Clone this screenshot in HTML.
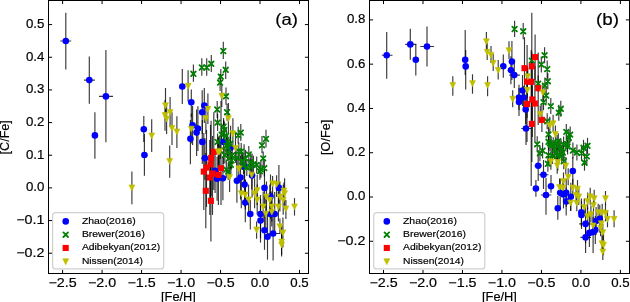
<!DOCTYPE html>
<html><head><meta charset="utf-8"><title>Figure</title>
<style>html,body{margin:0;padding:0;background:#fff;width:630px;height:302px;overflow:hidden}svg{display:block}text{font-family:"Liberation Sans",sans-serif;filter:grayscale(1);stroke:#000;stroke-width:0.18px}</style>
</head><body>
<svg width="630" height="302" viewBox="0 0 630 302">
<rect width="630" height="302" fill="#fff"/>
<g><g stroke="#000" stroke-opacity="0.78" stroke-width="1.15" fill="none"><path d="M65.80,12.70V69.40M60.30,41.00H71.20"/><path d="M89.30,56.40V103.70M84.00,80.10H94.90"/><path d="M105.90,50.10V142.30M99.00,96.40H113.00"/><path d="M94.90,112.30V158.70"/><path d="M143.80,116.00V142.00"/><path d="M144.40,134.00V175.80M141.50,155.00H147.80"/><path d="M182.30,68.90V104.10"/><path d="M191.30,89.40V117.00"/><path d="M204.30,87.90V123.00"/><path d="M202.20,90.30V134.00"/><path d="M192.60,106.00V145.00"/><path d="M197.90,106.20V151.00"/><path d="M196.60,109.50V156.00"/><path d="M190.40,120.00V164.30"/><path d="M202.30,120.00V164.00"/><path d="M223.60,119.90V163.90"/><path d="M230.60,125.80V169.80"/><path d="M204.90,138.00V180.00M201.20,158.30H208.60"/><path d="M215.10,148.90V192.90"/><path d="M217.10,156.80V200.80"/><path d="M222.90,156.20V200.20"/><path d="M236.90,158.80V202.80"/><path d="M240.50,155.60V199.60"/><path d="M244.60,162.60V206.60"/><path d="M244.10,144.30V188.30"/><path d="M252.10,153.50V197.50"/><path d="M264.50,168.00V208.00"/><path d="M278.90,165.00V210.00"/><path d="M245.30,180.00V222.20"/><path d="M270.50,174.50V218.50"/><path d="M250.30,200.00V229.50"/><path d="M260.50,195.00V238.10"/><path d="M270.20,192.00V236.00"/><path d="M274.70,192.00V236.00"/><path d="M260.50,198.60V242.60"/><path d="M264.50,211.00V249.80"/><path d="M273.10,210.00V260.50M268.30,233.50H279.90"/><path d="M267.50,214.00V259.70"/><path d="M193.40,64.60V81.80"/><path d="M201.80,58.30V75.80"/><path d="M206.70,58.30V75.80"/><path d="M211.30,55.00V72.00"/><path d="M223.30,41.80V59.00"/><path d="M225.70,61.60V79.00"/><path d="M220.80,68.90V85.00"/><path d="M220.10,74.00V91.00"/><path d="M226.00,87.60V104.70"/><path d="M217.20,100.90V118.00"/><path d="M227.10,103.70V120.70"/><path d="M217.60,114.10V131.10"/><path d="M223.60,118.10V135.10"/><path d="M224.30,121.40V138.40"/><path d="M240.80,124.10V141.10"/><path d="M238.20,126.70V143.70"/><path d="M221.60,126.10V143.10"/><path d="M226.30,127.40V144.40"/><path d="M217.60,133.40V150.40"/><path d="M227.60,133.40V150.40"/><path d="M230.20,135.30V152.30"/><path d="M226.30,137.30V154.30"/><path d="M228.20,139.30V156.30"/><path d="M220.30,142.00V159.00"/><path d="M238.80,142.60V159.60"/><path d="M227.60,144.00V161.00"/><path d="M232.20,146.60V163.60"/><path d="M224.90,146.60V163.60"/><path d="M236.90,149.20V166.20"/><path d="M248.80,145.90V162.90"/><path d="M245.50,149.90V166.90"/><path d="M228.90,149.90V166.90"/><path d="M231.60,151.80V168.80"/><path d="M230.90,156.40V173.40"/><path d="M228.20,163.10V180.10"/><path d="M226.30,161.10V178.10"/><path d="M242.20,152.50V169.50"/><path d="M250.80,153.80V170.80"/><path d="M243.50,157.10V174.10"/><path d="M246.80,159.10V176.10"/><path d="M250.10,158.40V175.40"/><path d="M253.40,155.80V172.80"/><path d="M256.70,156.40V173.40"/><path d="M260.90,160.80V177.80"/><path d="M264.30,159.60V176.60"/><path d="M259.90,162.80V179.80"/><path d="M241.20,143.00V160.00"/><path d="M242.30,152.90V169.90"/><path d="M266.00,129.70V147.50"/><path d="M262.00,135.90V153.30"/><path d="M263.20,151.50V166.00"/><path d="M213.80,112.20V190.00"/><path d="M211.10,120.80V196.00"/><path d="M210.50,125.00V203.00"/><path d="M206.50,130.00V207.00"/><path d="M203.80,133.00V210.00"/><path d="M212.50,136.00V214.90"/><path d="M209.80,140.00V215.00"/><path d="M218.40,138.00V205.00"/><path d="M221.00,100.90V205.00"/><path d="M205.80,153.00V228.20"/><path d="M210.90,160.00V241.40"/><path d="M151.70,119.30V152.10"/><path d="M131.90,171.40V204.30"/><path d="M169.70,145.60V177.80"/><path d="M188.10,70.30V101.70"/><path d="M221.80,84.00V107.00"/><path d="M207.90,93.60V124.00"/><path d="M165.50,88.00V120.00"/><path d="M170.10,97.00V127.00"/><path d="M165.00,100.00V130.80"/><path d="M166.60,104.00V134.00"/><path d="M172.00,112.20V144.90"/><path d="M176.90,116.20V148.00"/><path d="M205.90,103.00V134.00"/><path d="M228.40,103.10V133.10"/><path d="M191.30,113.60V143.60"/><path d="M218.40,136.80V166.80"/><path d="M232.90,118.20V148.20"/><path d="M235.50,132.80V162.80"/><path d="M219.60,136.10V166.10"/><path d="M229.60,161.90V191.90"/><path d="M238.80,153.20V183.20"/><path d="M251.70,159.60V189.60"/><path d="M272.60,176.00V196.00"/><path d="M276.60,175.30V197.00"/><path d="M257.20,174.90V204.90"/><path d="M254.60,178.20V208.20"/><path d="M241.30,178.20V208.20"/><path d="M245.30,179.50V209.50"/><path d="M248.60,184.40V214.40"/><path d="M257.20,184.40V214.40"/><path d="M266.50,181.50V211.50"/><path d="M269.80,184.80V214.80"/><path d="M263.20,191.40V221.40"/><path d="M271.80,191.40V221.40"/><path d="M278.40,191.40V221.40"/><path d="M283.90,182.60V202.00"/><path d="M284.60,178.20V208.20"/><path d="M279.90,181.50V211.50"/><path d="M283.20,184.80V214.80"/><path d="M294.50,198.10V215.60"/><path d="M285.90,200.00V219.10"/><path d="M271.80,196.60V226.60"/><path d="M265.80,198.60V228.60"/><path d="M256.60,221.60V238.80"/><path d="M279.90,218.60V234.00"/><path d="M282.90,217.40V247.40"/><path d="M281.60,226.50V256.50"/><path d="M281.60,234.00V254.70"/></g>
<circle cx="65.8" cy="41.0" r="3.3" fill="#0000ff"/>
<circle cx="89.3" cy="80.1" r="3.3" fill="#0000ff"/>
<circle cx="105.9" cy="96.4" r="3.3" fill="#0000ff"/>
<circle cx="94.9" cy="135.4" r="3.3" fill="#0000ff"/>
<circle cx="143.8" cy="129.2" r="3.3" fill="#0000ff"/>
<circle cx="144.4" cy="155.0" r="3.3" fill="#0000ff"/>
<circle cx="182.3" cy="86.5" r="3.3" fill="#0000ff"/>
<circle cx="191.3" cy="102.2" r="3.3" fill="#0000ff"/>
<circle cx="204.3" cy="105.5" r="3.3" fill="#0000ff"/>
<circle cx="202.2" cy="112.2" r="3.3" fill="#0000ff"/>
<circle cx="192.6" cy="125.3" r="3.3" fill="#0000ff"/>
<circle cx="197.9" cy="128.6" r="3.3" fill="#0000ff"/>
<circle cx="196.6" cy="132.6" r="3.3" fill="#0000ff"/>
<circle cx="190.4" cy="138.7" r="3.3" fill="#0000ff"/>
<circle cx="202.3" cy="141.9" r="3.3" fill="#0000ff"/>
<circle cx="223.6" cy="141.9" r="3.3" fill="#0000ff"/>
<circle cx="230.6" cy="147.8" r="3.3" fill="#0000ff"/>
<circle cx="204.9" cy="158.3" r="3.3" fill="#0000ff"/>
<circle cx="215.1" cy="170.9" r="3.3" fill="#0000ff"/>
<circle cx="217.1" cy="178.8" r="3.3" fill="#0000ff"/>
<circle cx="222.9" cy="178.2" r="3.3" fill="#0000ff"/>
<circle cx="236.9" cy="180.8" r="3.3" fill="#0000ff"/>
<circle cx="240.5" cy="177.6" r="3.3" fill="#0000ff"/>
<circle cx="244.6" cy="184.6" r="3.3" fill="#0000ff"/>
<circle cx="244.1" cy="166.3" r="3.3" fill="#0000ff"/>
<circle cx="252.1" cy="175.5" r="3.3" fill="#0000ff"/>
<circle cx="264.5" cy="187.9" r="3.3" fill="#0000ff"/>
<circle cx="278.9" cy="187.9" r="3.3" fill="#0000ff"/>
<circle cx="245.3" cy="202.5" r="3.3" fill="#0000ff"/>
<circle cx="270.5" cy="196.5" r="3.3" fill="#0000ff"/>
<circle cx="250.3" cy="214.0" r="3.3" fill="#0000ff"/>
<circle cx="260.5" cy="214.0" r="3.3" fill="#0000ff"/>
<circle cx="270.2" cy="214.0" r="3.3" fill="#0000ff"/>
<circle cx="274.7" cy="214.0" r="3.3" fill="#0000ff"/>
<circle cx="260.5" cy="220.6" r="3.3" fill="#0000ff"/>
<circle cx="264.5" cy="230.2" r="3.3" fill="#0000ff"/>
<circle cx="273.1" cy="233.5" r="3.3" fill="#0000ff"/>
<circle cx="267.5" cy="236.8" r="3.3" fill="#0000ff"/>
<path d="M191.10,71.50L195.70,76.10M191.10,76.10L195.70,71.50" stroke="#008000" stroke-width="1.8" stroke-linecap="round" fill="none"/>
<path d="M199.50,65.20L204.10,69.80M199.50,69.80L204.10,65.20" stroke="#008000" stroke-width="1.8" stroke-linecap="round" fill="none"/>
<path d="M204.40,65.20L209.00,69.80M204.40,69.80L209.00,65.20" stroke="#008000" stroke-width="1.8" stroke-linecap="round" fill="none"/>
<path d="M209.00,61.50L213.60,66.10M209.00,66.10L213.60,61.50" stroke="#008000" stroke-width="1.8" stroke-linecap="round" fill="none"/>
<path d="M221.00,48.70L225.60,53.30M221.00,53.30L225.60,48.70" stroke="#008000" stroke-width="1.8" stroke-linecap="round" fill="none"/>
<path d="M223.40,67.50L228.00,72.10M223.40,72.10L228.00,67.50" stroke="#008000" stroke-width="1.8" stroke-linecap="round" fill="none"/>
<path d="M218.50,74.30L223.10,78.90M218.50,78.90L223.10,74.30" stroke="#008000" stroke-width="1.8" stroke-linecap="round" fill="none"/>
<path d="M217.80,80.30L222.40,84.90M217.80,84.90L222.40,80.30" stroke="#008000" stroke-width="1.8" stroke-linecap="round" fill="none"/>
<path d="M223.70,94.00L228.30,98.60M223.70,98.60L228.30,94.00" stroke="#008000" stroke-width="1.8" stroke-linecap="round" fill="none"/>
<path d="M214.90,107.20L219.50,111.80M214.90,111.80L219.50,107.20" stroke="#008000" stroke-width="1.8" stroke-linecap="round" fill="none"/>
<path d="M224.80,109.90L229.40,114.50M224.80,114.50L229.40,109.90" stroke="#008000" stroke-width="1.8" stroke-linecap="round" fill="none"/>
<path d="M215.30,120.30L219.90,124.90M215.30,124.90L219.90,120.30" stroke="#008000" stroke-width="1.8" stroke-linecap="round" fill="none"/>
<path d="M221.30,124.30L225.90,128.90M221.30,128.90L225.90,124.30" stroke="#008000" stroke-width="1.8" stroke-linecap="round" fill="none"/>
<path d="M222.00,127.60L226.60,132.20M222.00,132.20L226.60,127.60" stroke="#008000" stroke-width="1.8" stroke-linecap="round" fill="none"/>
<path d="M238.50,130.30L243.10,134.90M238.50,134.90L243.10,130.30" stroke="#008000" stroke-width="1.8" stroke-linecap="round" fill="none"/>
<path d="M235.90,132.90L240.50,137.50M235.90,137.50L240.50,132.90" stroke="#008000" stroke-width="1.8" stroke-linecap="round" fill="none"/>
<path d="M219.30,132.30L223.90,136.90M219.30,136.90L223.90,132.30" stroke="#008000" stroke-width="1.8" stroke-linecap="round" fill="none"/>
<path d="M224.00,133.60L228.60,138.20M224.00,138.20L228.60,133.60" stroke="#008000" stroke-width="1.8" stroke-linecap="round" fill="none"/>
<path d="M215.30,139.60L219.90,144.20M215.30,144.20L219.90,139.60" stroke="#008000" stroke-width="1.8" stroke-linecap="round" fill="none"/>
<path d="M225.30,139.60L229.90,144.20M225.30,144.20L229.90,139.60" stroke="#008000" stroke-width="1.8" stroke-linecap="round" fill="none"/>
<path d="M227.90,141.50L232.50,146.10M227.90,146.10L232.50,141.50" stroke="#008000" stroke-width="1.8" stroke-linecap="round" fill="none"/>
<path d="M224.00,143.50L228.60,148.10M224.00,148.10L228.60,143.50" stroke="#008000" stroke-width="1.8" stroke-linecap="round" fill="none"/>
<path d="M225.90,145.50L230.50,150.10M225.90,150.10L230.50,145.50" stroke="#008000" stroke-width="1.8" stroke-linecap="round" fill="none"/>
<path d="M218.00,148.20L222.60,152.80M218.00,152.80L222.60,148.20" stroke="#008000" stroke-width="1.8" stroke-linecap="round" fill="none"/>
<path d="M236.50,148.80L241.10,153.40M236.50,153.40L241.10,148.80" stroke="#008000" stroke-width="1.8" stroke-linecap="round" fill="none"/>
<path d="M225.30,150.20L229.90,154.80M225.30,154.80L229.90,150.20" stroke="#008000" stroke-width="1.8" stroke-linecap="round" fill="none"/>
<path d="M229.90,152.80L234.50,157.40M229.90,157.40L234.50,152.80" stroke="#008000" stroke-width="1.8" stroke-linecap="round" fill="none"/>
<path d="M222.60,152.80L227.20,157.40M222.60,157.40L227.20,152.80" stroke="#008000" stroke-width="1.8" stroke-linecap="round" fill="none"/>
<path d="M234.60,155.40L239.20,160.00M234.60,160.00L239.20,155.40" stroke="#008000" stroke-width="1.8" stroke-linecap="round" fill="none"/>
<path d="M246.50,152.10L251.10,156.70M246.50,156.70L251.10,152.10" stroke="#008000" stroke-width="1.8" stroke-linecap="round" fill="none"/>
<path d="M243.20,156.10L247.80,160.70M243.20,160.70L247.80,156.10" stroke="#008000" stroke-width="1.8" stroke-linecap="round" fill="none"/>
<path d="M226.60,156.10L231.20,160.70M226.60,160.70L231.20,156.10" stroke="#008000" stroke-width="1.8" stroke-linecap="round" fill="none"/>
<path d="M229.30,158.00L233.90,162.60M229.30,162.60L233.90,158.00" stroke="#008000" stroke-width="1.8" stroke-linecap="round" fill="none"/>
<path d="M228.60,162.60L233.20,167.20M228.60,167.20L233.20,162.60" stroke="#008000" stroke-width="1.8" stroke-linecap="round" fill="none"/>
<path d="M225.90,169.30L230.50,173.90M225.90,173.90L230.50,169.30" stroke="#008000" stroke-width="1.8" stroke-linecap="round" fill="none"/>
<path d="M224.00,167.30L228.60,171.90M224.00,171.90L228.60,167.30" stroke="#008000" stroke-width="1.8" stroke-linecap="round" fill="none"/>
<path d="M239.90,158.70L244.50,163.30M239.90,163.30L244.50,158.70" stroke="#008000" stroke-width="1.8" stroke-linecap="round" fill="none"/>
<path d="M248.50,160.00L253.10,164.60M248.50,164.60L253.10,160.00" stroke="#008000" stroke-width="1.8" stroke-linecap="round" fill="none"/>
<path d="M241.20,163.30L245.80,167.90M241.20,167.90L245.80,163.30" stroke="#008000" stroke-width="1.8" stroke-linecap="round" fill="none"/>
<path d="M244.50,165.30L249.10,169.90M244.50,169.90L249.10,165.30" stroke="#008000" stroke-width="1.8" stroke-linecap="round" fill="none"/>
<path d="M247.80,164.60L252.40,169.20M247.80,169.20L252.40,164.60" stroke="#008000" stroke-width="1.8" stroke-linecap="round" fill="none"/>
<path d="M251.10,162.00L255.70,166.60M251.10,166.60L255.70,162.00" stroke="#008000" stroke-width="1.8" stroke-linecap="round" fill="none"/>
<path d="M254.40,162.60L259.00,167.20M254.40,167.20L259.00,162.60" stroke="#008000" stroke-width="1.8" stroke-linecap="round" fill="none"/>
<path d="M258.60,167.00L263.20,171.60M258.60,171.60L263.20,167.00" stroke="#008000" stroke-width="1.8" stroke-linecap="round" fill="none"/>
<path d="M262.00,165.80L266.60,170.40M262.00,170.40L266.60,165.80" stroke="#008000" stroke-width="1.8" stroke-linecap="round" fill="none"/>
<path d="M257.60,169.00L262.20,173.60M257.60,173.60L262.20,169.00" stroke="#008000" stroke-width="1.8" stroke-linecap="round" fill="none"/>
<path d="M238.90,149.20L243.50,153.80M238.90,153.80L243.50,149.20" stroke="#008000" stroke-width="1.8" stroke-linecap="round" fill="none"/>
<path d="M240.00,159.10L244.60,163.70M240.00,163.70L244.60,159.10" stroke="#008000" stroke-width="1.8" stroke-linecap="round" fill="none"/>
<path d="M263.70,136.60L268.30,141.20M263.70,141.20L268.30,136.60" stroke="#008000" stroke-width="1.8" stroke-linecap="round" fill="none"/>
<path d="M259.70,142.90L264.30,147.50M259.70,147.50L264.30,142.90" stroke="#008000" stroke-width="1.8" stroke-linecap="round" fill="none"/>
<path d="M260.90,156.10L265.50,160.70M260.90,160.70L265.50,156.10" stroke="#008000" stroke-width="1.8" stroke-linecap="round" fill="none"/>
<rect x="210.75" y="148.75" width="6.10" height="6.10" fill="#ff0000"/>
<rect x="208.05" y="154.95" width="6.10" height="6.10" fill="#ff0000"/>
<rect x="207.45" y="161.25" width="6.10" height="6.10" fill="#ff0000"/>
<rect x="203.45" y="164.55" width="6.10" height="6.10" fill="#ff0000"/>
<rect x="200.75" y="168.55" width="6.10" height="6.10" fill="#ff0000"/>
<rect x="209.45" y="170.45" width="6.10" height="6.10" fill="#ff0000"/>
<rect x="206.75" y="174.45" width="6.10" height="6.10" fill="#ff0000"/>
<rect x="215.35" y="171.85" width="6.10" height="6.10" fill="#ff0000"/>
<rect x="217.95" y="165.15" width="6.10" height="6.10" fill="#ff0000"/>
<rect x="202.75" y="187.75" width="6.10" height="6.10" fill="#ff0000"/>
<rect x="207.85" y="197.75" width="6.10" height="6.10" fill="#ff0000"/>
<path d="M148.75,132.95L154.65,132.95L151.70,138.85Z" fill="#bfbf00" stroke="#bfbf00" stroke-width="0.6" stroke-linejoin="round"/>
<path d="M128.95,184.95L134.85,184.95L131.90,190.85Z" fill="#bfbf00" stroke="#bfbf00" stroke-width="0.6" stroke-linejoin="round"/>
<path d="M166.75,158.45L172.65,158.45L169.70,164.35Z" fill="#bfbf00" stroke="#bfbf00" stroke-width="0.6" stroke-linejoin="round"/>
<path d="M185.15,83.35L191.05,83.35L188.10,89.25Z" fill="#bfbf00" stroke="#bfbf00" stroke-width="0.6" stroke-linejoin="round"/>
<path d="M218.85,93.15L224.75,93.15L221.80,99.05Z" fill="#bfbf00" stroke="#bfbf00" stroke-width="0.6" stroke-linejoin="round"/>
<path d="M204.95,106.35L210.85,106.35L207.90,112.25Z" fill="#bfbf00" stroke="#bfbf00" stroke-width="0.6" stroke-linejoin="round"/>
<path d="M162.55,102.85L168.45,102.85L165.50,108.75Z" fill="#bfbf00" stroke="#bfbf00" stroke-width="0.6" stroke-linejoin="round"/>
<path d="M167.15,109.55L173.05,109.55L170.10,115.45Z" fill="#bfbf00" stroke="#bfbf00" stroke-width="0.6" stroke-linejoin="round"/>
<path d="M162.05,112.45L167.95,112.45L165.00,118.35Z" fill="#bfbf00" stroke="#bfbf00" stroke-width="0.6" stroke-linejoin="round"/>
<path d="M163.65,116.15L169.55,116.15L166.60,122.05Z" fill="#bfbf00" stroke="#bfbf00" stroke-width="0.6" stroke-linejoin="round"/>
<path d="M169.05,125.45L174.95,125.45L172.00,131.35Z" fill="#bfbf00" stroke="#bfbf00" stroke-width="0.6" stroke-linejoin="round"/>
<path d="M173.95,128.95L179.85,128.95L176.90,134.85Z" fill="#bfbf00" stroke="#bfbf00" stroke-width="0.6" stroke-linejoin="round"/>
<path d="M202.95,115.65L208.85,115.65L205.90,121.55Z" fill="#bfbf00" stroke="#bfbf00" stroke-width="0.6" stroke-linejoin="round"/>
<path d="M225.45,115.65L231.35,115.65L228.40,121.55Z" fill="#bfbf00" stroke="#bfbf00" stroke-width="0.6" stroke-linejoin="round"/>
<path d="M188.35,126.15L194.25,126.15L191.30,132.05Z" fill="#bfbf00" stroke="#bfbf00" stroke-width="0.6" stroke-linejoin="round"/>
<path d="M215.45,149.35L221.35,149.35L218.40,155.25Z" fill="#bfbf00" stroke="#bfbf00" stroke-width="0.6" stroke-linejoin="round"/>
<path d="M229.95,130.75L235.85,130.75L232.90,136.65Z" fill="#bfbf00" stroke="#bfbf00" stroke-width="0.6" stroke-linejoin="round"/>
<path d="M232.55,145.35L238.45,145.35L235.50,151.25Z" fill="#bfbf00" stroke="#bfbf00" stroke-width="0.6" stroke-linejoin="round"/>
<path d="M216.65,148.65L222.55,148.65L219.60,154.55Z" fill="#bfbf00" stroke="#bfbf00" stroke-width="0.6" stroke-linejoin="round"/>
<path d="M226.65,174.45L232.55,174.45L229.60,180.35Z" fill="#bfbf00" stroke="#bfbf00" stroke-width="0.6" stroke-linejoin="round"/>
<path d="M235.85,165.75L241.75,165.75L238.80,171.65Z" fill="#bfbf00" stroke="#bfbf00" stroke-width="0.6" stroke-linejoin="round"/>
<path d="M248.75,172.15L254.65,172.15L251.70,178.05Z" fill="#bfbf00" stroke="#bfbf00" stroke-width="0.6" stroke-linejoin="round"/>
<path d="M269.65,180.75L275.55,180.75L272.60,186.65Z" fill="#bfbf00" stroke="#bfbf00" stroke-width="0.6" stroke-linejoin="round"/>
<path d="M273.65,181.45L279.55,181.45L276.60,187.35Z" fill="#bfbf00" stroke="#bfbf00" stroke-width="0.6" stroke-linejoin="round"/>
<path d="M254.25,187.45L260.15,187.45L257.20,193.35Z" fill="#bfbf00" stroke="#bfbf00" stroke-width="0.6" stroke-linejoin="round"/>
<path d="M251.65,190.75L257.55,190.75L254.60,196.65Z" fill="#bfbf00" stroke="#bfbf00" stroke-width="0.6" stroke-linejoin="round"/>
<path d="M238.35,190.75L244.25,190.75L241.30,196.65Z" fill="#bfbf00" stroke="#bfbf00" stroke-width="0.6" stroke-linejoin="round"/>
<path d="M242.35,192.05L248.25,192.05L245.30,197.95Z" fill="#bfbf00" stroke="#bfbf00" stroke-width="0.6" stroke-linejoin="round"/>
<path d="M245.65,196.95L251.55,196.95L248.60,202.85Z" fill="#bfbf00" stroke="#bfbf00" stroke-width="0.6" stroke-linejoin="round"/>
<path d="M254.25,196.95L260.15,196.95L257.20,202.85Z" fill="#bfbf00" stroke="#bfbf00" stroke-width="0.6" stroke-linejoin="round"/>
<path d="M263.55,194.05L269.45,194.05L266.50,199.95Z" fill="#bfbf00" stroke="#bfbf00" stroke-width="0.6" stroke-linejoin="round"/>
<path d="M266.85,197.35L272.75,197.35L269.80,203.25Z" fill="#bfbf00" stroke="#bfbf00" stroke-width="0.6" stroke-linejoin="round"/>
<path d="M260.25,203.95L266.15,203.95L263.20,209.85Z" fill="#bfbf00" stroke="#bfbf00" stroke-width="0.6" stroke-linejoin="round"/>
<path d="M268.85,203.95L274.75,203.95L271.80,209.85Z" fill="#bfbf00" stroke="#bfbf00" stroke-width="0.6" stroke-linejoin="round"/>
<path d="M275.45,203.95L281.35,203.95L278.40,209.85Z" fill="#bfbf00" stroke="#bfbf00" stroke-width="0.6" stroke-linejoin="round"/>
<path d="M280.95,188.05L286.85,188.05L283.90,193.95Z" fill="#bfbf00" stroke="#bfbf00" stroke-width="0.6" stroke-linejoin="round"/>
<path d="M281.65,190.75L287.55,190.75L284.60,196.65Z" fill="#bfbf00" stroke="#bfbf00" stroke-width="0.6" stroke-linejoin="round"/>
<path d="M276.95,194.05L282.85,194.05L279.90,199.95Z" fill="#bfbf00" stroke="#bfbf00" stroke-width="0.6" stroke-linejoin="round"/>
<path d="M280.25,197.35L286.15,197.35L283.20,203.25Z" fill="#bfbf00" stroke="#bfbf00" stroke-width="0.6" stroke-linejoin="round"/>
<path d="M291.55,203.95L297.45,203.95L294.50,209.85Z" fill="#bfbf00" stroke="#bfbf00" stroke-width="0.6" stroke-linejoin="round"/>
<path d="M282.95,205.95L288.85,205.95L285.90,211.85Z" fill="#bfbf00" stroke="#bfbf00" stroke-width="0.6" stroke-linejoin="round"/>
<path d="M268.85,209.15L274.75,209.15L271.80,215.05Z" fill="#bfbf00" stroke="#bfbf00" stroke-width="0.6" stroke-linejoin="round"/>
<path d="M262.85,211.15L268.75,211.15L265.80,217.05Z" fill="#bfbf00" stroke="#bfbf00" stroke-width="0.6" stroke-linejoin="round"/>
<path d="M253.65,227.05L259.55,227.05L256.60,232.95Z" fill="#bfbf00" stroke="#bfbf00" stroke-width="0.6" stroke-linejoin="round"/>
<path d="M276.95,223.85L282.85,223.85L279.90,229.75Z" fill="#bfbf00" stroke="#bfbf00" stroke-width="0.6" stroke-linejoin="round"/>
<path d="M279.95,229.95L285.85,229.95L282.90,235.85Z" fill="#bfbf00" stroke="#bfbf00" stroke-width="0.6" stroke-linejoin="round"/>
<path d="M278.65,239.05L284.55,239.05L281.60,244.95Z" fill="#bfbf00" stroke="#bfbf00" stroke-width="0.6" stroke-linejoin="round"/>
<path d="M278.65,242.05L284.55,242.05L281.60,247.95Z" fill="#bfbf00" stroke="#bfbf00" stroke-width="0.6" stroke-linejoin="round"/></g>
<g><g stroke="#000" stroke-opacity="0.78" stroke-width="1.15" fill="none"><path d="M386.70,31.90V78.80M381.90,55.20H392.50"/><path d="M410.30,28.70V59.70M405.20,44.40H416.40"/><path d="M415.80,44.40V75.60"/><path d="M427.00,26.60V66.40M420.30,46.50H434.10"/><path d="M465.20,30.10V75.00"/><path d="M465.70,50.00V89.40"/><path d="M503.30,54.40V77.70"/><path d="M511.90,41.00V80.00"/><path d="M510.90,56.20V84.20"/><path d="M514.30,62.00V88.00M509.30,75.10H519.90"/><path d="M522.50,75.00V106.00"/><path d="M525.70,95.00V124.00"/><path d="M519.00,84.80V110.00"/><path d="M523.60,86.10V110.00"/><path d="M519.00,88.00V116.00"/><path d="M526.00,110.00V145.10M521.30,128.50H531.30"/><path d="M538.20,150.00V181.00M534.60,165.80H541.90"/><path d="M543.50,160.00V189.00M538.60,174.70H548.50"/><path d="M572.80,157.00V185.00"/><path d="M551.00,174.90V192.80"/><path d="M560.20,178.80V206.80"/><path d="M566.20,178.80V206.80"/><path d="M563.50,180.40V208.40"/><path d="M570.80,182.80V210.80"/><path d="M546.00,177.90V214.70M540.80,195.00H551.30"/><path d="M535.90,179.90V196.80"/><path d="M566.20,187.40V215.40"/><path d="M557.80,196.00V219.70"/><path d="M581.40,198.40V226.40"/><path d="M581.50,201.00V229.00"/><path d="M585.60,205.00V243.00M579.20,223.90H592.00"/><path d="M596.10,207.00V235.00"/><path d="M599.80,204.70V232.70"/><path d="M589.40,215.00V247.00"/><path d="M593.10,212.00V253.00"/><path d="M595.30,215.90V243.90"/><path d="M585.60,220.00V253.00M580.40,237.40H591.00"/><path d="M514.60,20.70V37.00"/><path d="M523.20,22.90V39.20"/><path d="M531.80,52.60V68.60"/><path d="M544.60,47.30V63.20"/><path d="M541.30,56.50V72.50"/><path d="M547.20,60.50V79.00"/><path d="M547.80,73.20V89.20"/><path d="M544.90,77.60V93.60"/><path d="M538.20,75.60V91.60"/><path d="M546.20,87.50V103.50"/><path d="M543.50,94.20V110.20"/><path d="M550.80,98.10V114.10"/><path d="M560.80,100.80V116.80"/><path d="M558.80,104.70V120.70"/><path d="M547.20,113.30V129.30"/><path d="M548.50,126.50V142.50"/><path d="M537.20,136.20V152.20"/><path d="M548.50,133.80V149.80"/><path d="M551.10,136.70V152.70"/><path d="M557.10,135.10V151.10"/><path d="M566.30,123.90V139.90"/><path d="M570.20,126.60V142.60"/><path d="M568.90,129.90V145.90"/><path d="M558.30,133.20V149.20"/><path d="M563.60,136.50V152.50"/><path d="M561.00,139.20V155.20"/><path d="M567.60,138.50V154.50"/><path d="M572.90,142.50V158.50"/><path d="M576.90,144.50V160.50"/><path d="M583.50,139.80V155.80"/><path d="M587.50,137.80V153.80"/><path d="M581.50,145.10V161.10"/><path d="M586.80,148.40V164.40"/><path d="M559.00,146.40V162.40"/><path d="M556.30,144.50V160.50"/><path d="M562.90,144.50V160.50"/><path d="M542.60,142.60V158.60"/><path d="M539.90,145.20V161.20"/><path d="M549.90,135.30V151.30"/><path d="M553.20,137.30V153.30"/><path d="M567.10,136.00V152.00"/><path d="M548.50,147.20V163.20"/><path d="M552.50,147.90V163.90"/><path d="M557.20,147.90V163.90"/><path d="M561.80,147.20V163.20"/><path d="M559.80,140.60V156.60"/><path d="M547.90,155.80V171.80"/><path d="M563.80,153.20V169.20"/><path d="M554.50,141.30V157.30"/><path d="M584.50,154.70V170.70"/><path d="M524.50,37.20V99.00"/><path d="M531.80,12.70V120.00"/><path d="M535.10,34.60V80.00"/><path d="M527.10,45.00V118.00"/><path d="M531.20,50.00V185.90"/><path d="M538.20,52.60V125.00"/><path d="M532.30,62.00V137.00"/><path d="M527.00,66.00V142.00"/><path d="M534.90,66.00V141.00"/><path d="M541.90,105.00V131.90"/><path d="M531.90,86.00V162.00"/><path d="M452.80,76.20V95.70"/><path d="M472.50,74.30V93.70"/><path d="M487.60,76.20V96.30"/><path d="M486.40,31.90V50.00"/><path d="M487.20,43.00V60.00"/><path d="M491.00,46.00V63.00"/><path d="M493.20,54.00V71.00"/><path d="M498.20,60.00V79.60"/><path d="M509.00,41.20V59.00"/><path d="M527.80,67.70V84.70"/><path d="M527.30,81.30V98.30"/><path d="M542.90,83.70V100.70"/><path d="M512.70,90.20V107.20"/><path d="M540.30,105.50V122.50"/><path d="M549.80,116.70V133.70"/><path d="M553.10,114.70V131.70"/><path d="M555.40,125.40V142.40"/><path d="M550.90,152.70V169.70"/><path d="M557.80,153.40V170.40"/><path d="M557.20,156.70V173.70"/><path d="M565.80,157.00V174.00"/><path d="M568.20,168.20V185.20"/><path d="M563.50,172.40V189.40"/><path d="M559.60,178.40V195.40"/><path d="M562.90,179.00V196.00"/><path d="M572.80,179.00V196.00"/><path d="M577.50,180.10V197.10"/><path d="M576.10,186.30V203.30"/><path d="M578.80,188.00V205.00"/><path d="M570.60,194.10V211.10"/><path d="M576.80,194.20V211.20"/><path d="M590.20,187.80V204.80"/><path d="M594.20,189.70V206.70"/><path d="M605.50,191.00V205.00"/><path d="M587.60,192.40V209.40"/><path d="M593.50,196.40V213.40"/><path d="M584.30,198.40V215.40"/><path d="M598.20,203.70V220.70"/><path d="M602.20,203.70V220.70"/><path d="M605.50,204.30V221.30"/><path d="M590.90,205.60V222.60"/><path d="M587.60,207.60V224.60"/><path d="M607.50,210.30V227.30"/><path d="M614.10,210.30V227.30"/><path d="M593.10,216.90V233.90"/><path d="M601.30,214.70V231.70"/><path d="M600.60,219.20V236.20"/><path d="M602.80,223.60V240.60"/><path d="M602.00,234.80V251.80"/><path d="M603.50,234.00V255.20"/><path d="M602.80,243.00V260.00"/></g>
<circle cx="386.7" cy="55.2" r="3.3" fill="#0000ff"/>
<circle cx="410.3" cy="44.4" r="3.3" fill="#0000ff"/>
<circle cx="415.8" cy="59.7" r="3.3" fill="#0000ff"/>
<circle cx="427.0" cy="46.5" r="3.3" fill="#0000ff"/>
<circle cx="465.2" cy="59.7" r="3.3" fill="#0000ff"/>
<circle cx="465.7" cy="66.4" r="3.3" fill="#0000ff"/>
<circle cx="503.3" cy="66.3" r="3.3" fill="#0000ff"/>
<circle cx="511.9" cy="61.6" r="3.3" fill="#0000ff"/>
<circle cx="510.9" cy="70.2" r="3.3" fill="#0000ff"/>
<circle cx="514.3" cy="75.1" r="3.3" fill="#0000ff"/>
<circle cx="522.5" cy="90.5" r="3.3" fill="#0000ff"/>
<circle cx="525.7" cy="109.4" r="3.3" fill="#0000ff"/>
<circle cx="519.0" cy="97.5" r="3.3" fill="#0000ff"/>
<circle cx="523.6" cy="97.5" r="3.3" fill="#0000ff"/>
<circle cx="519.0" cy="102.0" r="3.3" fill="#0000ff"/>
<circle cx="526.0" cy="128.5" r="3.3" fill="#0000ff"/>
<circle cx="538.2" cy="165.8" r="3.3" fill="#0000ff"/>
<circle cx="543.5" cy="174.7" r="3.3" fill="#0000ff"/>
<circle cx="572.8" cy="171.0" r="3.3" fill="#0000ff"/>
<circle cx="551.0" cy="186.2" r="3.3" fill="#0000ff"/>
<circle cx="560.2" cy="192.8" r="3.3" fill="#0000ff"/>
<circle cx="566.2" cy="192.8" r="3.3" fill="#0000ff"/>
<circle cx="563.5" cy="194.4" r="3.3" fill="#0000ff"/>
<circle cx="570.8" cy="196.8" r="3.3" fill="#0000ff"/>
<circle cx="546.0" cy="195.0" r="3.3" fill="#0000ff"/>
<circle cx="535.9" cy="188.5" r="3.3" fill="#0000ff"/>
<circle cx="566.2" cy="201.4" r="3.3" fill="#0000ff"/>
<circle cx="557.8" cy="208.3" r="3.3" fill="#0000ff"/>
<circle cx="581.4" cy="212.4" r="3.3" fill="#0000ff"/>
<circle cx="581.5" cy="215.0" r="3.3" fill="#0000ff"/>
<circle cx="585.6" cy="223.9" r="3.3" fill="#0000ff"/>
<circle cx="596.1" cy="221.0" r="3.3" fill="#0000ff"/>
<circle cx="599.8" cy="218.7" r="3.3" fill="#0000ff"/>
<circle cx="589.4" cy="232.9" r="3.3" fill="#0000ff"/>
<circle cx="593.1" cy="232.1" r="3.3" fill="#0000ff"/>
<circle cx="595.3" cy="229.9" r="3.3" fill="#0000ff"/>
<circle cx="585.6" cy="237.4" r="3.3" fill="#0000ff"/>
<path d="M512.30,26.70L516.90,31.30M512.30,31.30L516.90,26.70" stroke="#008000" stroke-width="1.8" stroke-linecap="round" fill="none"/>
<path d="M520.90,29.00L525.50,33.60M520.90,33.60L525.50,29.00" stroke="#008000" stroke-width="1.8" stroke-linecap="round" fill="none"/>
<path d="M529.50,58.30L534.10,62.90M529.50,62.90L534.10,58.30" stroke="#008000" stroke-width="1.8" stroke-linecap="round" fill="none"/>
<path d="M542.30,52.90L546.90,57.50M542.30,57.50L546.90,52.90" stroke="#008000" stroke-width="1.8" stroke-linecap="round" fill="none"/>
<path d="M539.00,62.20L543.60,66.80M539.00,66.80L543.60,62.20" stroke="#008000" stroke-width="1.8" stroke-linecap="round" fill="none"/>
<path d="M544.90,66.80L549.50,71.40M544.90,71.40L549.50,66.80" stroke="#008000" stroke-width="1.8" stroke-linecap="round" fill="none"/>
<path d="M545.50,78.90L550.10,83.50M545.50,83.50L550.10,78.90" stroke="#008000" stroke-width="1.8" stroke-linecap="round" fill="none"/>
<path d="M542.60,83.30L547.20,87.90M542.60,87.90L547.20,83.30" stroke="#008000" stroke-width="1.8" stroke-linecap="round" fill="none"/>
<path d="M535.90,81.30L540.50,85.90M535.90,85.90L540.50,81.30" stroke="#008000" stroke-width="1.8" stroke-linecap="round" fill="none"/>
<path d="M543.90,93.20L548.50,97.80M543.90,97.80L548.50,93.20" stroke="#008000" stroke-width="1.8" stroke-linecap="round" fill="none"/>
<path d="M541.20,99.90L545.80,104.50M541.20,104.50L545.80,99.90" stroke="#008000" stroke-width="1.8" stroke-linecap="round" fill="none"/>
<path d="M548.50,103.80L553.10,108.40M548.50,108.40L553.10,103.80" stroke="#008000" stroke-width="1.8" stroke-linecap="round" fill="none"/>
<path d="M558.50,106.50L563.10,111.10M558.50,111.10L563.10,106.50" stroke="#008000" stroke-width="1.8" stroke-linecap="round" fill="none"/>
<path d="M556.50,110.40L561.10,115.00M556.50,115.00L561.10,110.40" stroke="#008000" stroke-width="1.8" stroke-linecap="round" fill="none"/>
<path d="M544.90,119.00L549.50,123.60M544.90,123.60L549.50,119.00" stroke="#008000" stroke-width="1.8" stroke-linecap="round" fill="none"/>
<path d="M546.20,132.20L550.80,136.80M546.20,136.80L550.80,132.20" stroke="#008000" stroke-width="1.8" stroke-linecap="round" fill="none"/>
<path d="M534.90,141.90L539.50,146.50M534.90,146.50L539.50,141.90" stroke="#008000" stroke-width="1.8" stroke-linecap="round" fill="none"/>
<path d="M546.20,139.50L550.80,144.10M546.20,144.10L550.80,139.50" stroke="#008000" stroke-width="1.8" stroke-linecap="round" fill="none"/>
<path d="M548.80,142.40L553.40,147.00M548.80,147.00L553.40,142.40" stroke="#008000" stroke-width="1.8" stroke-linecap="round" fill="none"/>
<path d="M554.80,140.80L559.40,145.40M554.80,145.40L559.40,140.80" stroke="#008000" stroke-width="1.8" stroke-linecap="round" fill="none"/>
<path d="M564.00,129.60L568.60,134.20M564.00,134.20L568.60,129.60" stroke="#008000" stroke-width="1.8" stroke-linecap="round" fill="none"/>
<path d="M567.90,132.30L572.50,136.90M567.90,136.90L572.50,132.30" stroke="#008000" stroke-width="1.8" stroke-linecap="round" fill="none"/>
<path d="M566.60,135.60L571.20,140.20M566.60,140.20L571.20,135.60" stroke="#008000" stroke-width="1.8" stroke-linecap="round" fill="none"/>
<path d="M556.00,138.90L560.60,143.50M556.00,143.50L560.60,138.90" stroke="#008000" stroke-width="1.8" stroke-linecap="round" fill="none"/>
<path d="M561.30,142.20L565.90,146.80M561.30,146.80L565.90,142.20" stroke="#008000" stroke-width="1.8" stroke-linecap="round" fill="none"/>
<path d="M558.70,144.90L563.30,149.50M558.70,149.50L563.30,144.90" stroke="#008000" stroke-width="1.8" stroke-linecap="round" fill="none"/>
<path d="M565.30,144.20L569.90,148.80M565.30,148.80L569.90,144.20" stroke="#008000" stroke-width="1.8" stroke-linecap="round" fill="none"/>
<path d="M570.60,148.20L575.20,152.80M570.60,152.80L575.20,148.20" stroke="#008000" stroke-width="1.8" stroke-linecap="round" fill="none"/>
<path d="M574.60,150.20L579.20,154.80M574.60,154.80L579.20,150.20" stroke="#008000" stroke-width="1.8" stroke-linecap="round" fill="none"/>
<path d="M581.20,145.50L585.80,150.10M581.20,150.10L585.80,145.50" stroke="#008000" stroke-width="1.8" stroke-linecap="round" fill="none"/>
<path d="M585.20,143.50L589.80,148.10M585.20,148.10L589.80,143.50" stroke="#008000" stroke-width="1.8" stroke-linecap="round" fill="none"/>
<path d="M579.20,150.80L583.80,155.40M579.20,155.40L583.80,150.80" stroke="#008000" stroke-width="1.8" stroke-linecap="round" fill="none"/>
<path d="M584.50,154.10L589.10,158.70M584.50,158.70L589.10,154.10" stroke="#008000" stroke-width="1.8" stroke-linecap="round" fill="none"/>
<path d="M556.70,152.10L561.30,156.70M556.70,156.70L561.30,152.10" stroke="#008000" stroke-width="1.8" stroke-linecap="round" fill="none"/>
<path d="M554.00,150.20L558.60,154.80M554.00,154.80L558.60,150.20" stroke="#008000" stroke-width="1.8" stroke-linecap="round" fill="none"/>
<path d="M560.60,150.20L565.20,154.80M560.60,154.80L565.20,150.20" stroke="#008000" stroke-width="1.8" stroke-linecap="round" fill="none"/>
<path d="M540.30,148.30L544.90,152.90M540.30,152.90L544.90,148.30" stroke="#008000" stroke-width="1.8" stroke-linecap="round" fill="none"/>
<path d="M537.60,150.90L542.20,155.50M537.60,155.50L542.20,150.90" stroke="#008000" stroke-width="1.8" stroke-linecap="round" fill="none"/>
<path d="M547.60,141.00L552.20,145.60M547.60,145.60L552.20,141.00" stroke="#008000" stroke-width="1.8" stroke-linecap="round" fill="none"/>
<path d="M550.90,143.00L555.50,147.60M550.90,147.60L555.50,143.00" stroke="#008000" stroke-width="1.8" stroke-linecap="round" fill="none"/>
<path d="M564.80,141.70L569.40,146.30M564.80,146.30L569.40,141.70" stroke="#008000" stroke-width="1.8" stroke-linecap="round" fill="none"/>
<path d="M546.20,152.90L550.80,157.50M546.20,157.50L550.80,152.90" stroke="#008000" stroke-width="1.8" stroke-linecap="round" fill="none"/>
<path d="M550.20,153.60L554.80,158.20M550.20,158.20L554.80,153.60" stroke="#008000" stroke-width="1.8" stroke-linecap="round" fill="none"/>
<path d="M554.90,153.60L559.50,158.20M554.90,158.20L559.50,153.60" stroke="#008000" stroke-width="1.8" stroke-linecap="round" fill="none"/>
<path d="M559.50,152.90L564.10,157.50M559.50,157.50L564.10,152.90" stroke="#008000" stroke-width="1.8" stroke-linecap="round" fill="none"/>
<path d="M557.50,146.30L562.10,150.90M557.50,150.90L562.10,146.30" stroke="#008000" stroke-width="1.8" stroke-linecap="round" fill="none"/>
<path d="M545.60,161.50L550.20,166.10M545.60,166.10L550.20,161.50" stroke="#008000" stroke-width="1.8" stroke-linecap="round" fill="none"/>
<path d="M561.50,158.90L566.10,163.50M561.50,163.50L566.10,158.90" stroke="#008000" stroke-width="1.8" stroke-linecap="round" fill="none"/>
<path d="M552.20,147.00L556.80,151.60M552.20,151.60L556.80,147.00" stroke="#008000" stroke-width="1.8" stroke-linecap="round" fill="none"/>
<path d="M582.20,160.40L586.80,165.00M582.20,165.00L586.80,160.40" stroke="#008000" stroke-width="1.8" stroke-linecap="round" fill="none"/>
<rect x="521.45" y="65.15" width="6.10" height="6.10" fill="#ff0000"/>
<rect x="528.75" y="63.25" width="6.10" height="6.10" fill="#ff0000"/>
<rect x="532.05" y="54.05" width="6.10" height="6.10" fill="#ff0000"/>
<rect x="524.05" y="78.55" width="6.10" height="6.10" fill="#ff0000"/>
<rect x="528.15" y="78.75" width="6.10" height="6.10" fill="#ff0000"/>
<rect x="535.15" y="85.15" width="6.10" height="6.10" fill="#ff0000"/>
<rect x="529.25" y="96.45" width="6.10" height="6.10" fill="#ff0000"/>
<rect x="523.95" y="101.05" width="6.10" height="6.10" fill="#ff0000"/>
<rect x="531.85" y="100.45" width="6.10" height="6.10" fill="#ff0000"/>
<rect x="538.85" y="116.85" width="6.10" height="6.10" fill="#ff0000"/>
<rect x="528.85" y="120.85" width="6.10" height="6.10" fill="#ff0000"/>
<path d="M449.85,82.45L455.75,82.45L452.80,88.35Z" fill="#bfbf00" stroke="#bfbf00" stroke-width="0.6" stroke-linejoin="round"/>
<path d="M469.55,80.65L475.45,80.65L472.50,86.55Z" fill="#bfbf00" stroke="#bfbf00" stroke-width="0.6" stroke-linejoin="round"/>
<path d="M484.65,82.45L490.55,82.45L487.60,88.35Z" fill="#bfbf00" stroke="#bfbf00" stroke-width="0.6" stroke-linejoin="round"/>
<path d="M483.45,38.75L489.35,38.75L486.40,44.65Z" fill="#bfbf00" stroke="#bfbf00" stroke-width="0.6" stroke-linejoin="round"/>
<path d="M484.25,49.35L490.15,49.35L487.20,55.25Z" fill="#bfbf00" stroke="#bfbf00" stroke-width="0.6" stroke-linejoin="round"/>
<path d="M488.05,52.35L493.95,52.35L491.00,58.25Z" fill="#bfbf00" stroke="#bfbf00" stroke-width="0.6" stroke-linejoin="round"/>
<path d="M490.25,60.35L496.15,60.35L493.20,66.25Z" fill="#bfbf00" stroke="#bfbf00" stroke-width="0.6" stroke-linejoin="round"/>
<path d="M495.25,67.45L501.15,67.45L498.20,73.35Z" fill="#bfbf00" stroke="#bfbf00" stroke-width="0.6" stroke-linejoin="round"/>
<path d="M506.05,47.75L511.95,47.75L509.00,53.65Z" fill="#bfbf00" stroke="#bfbf00" stroke-width="0.6" stroke-linejoin="round"/>
<path d="M524.85,73.75L530.75,73.75L527.80,79.65Z" fill="#bfbf00" stroke="#bfbf00" stroke-width="0.6" stroke-linejoin="round"/>
<path d="M524.35,87.35L530.25,87.35L527.30,93.25Z" fill="#bfbf00" stroke="#bfbf00" stroke-width="0.6" stroke-linejoin="round"/>
<path d="M539.95,89.75L545.85,89.75L542.90,95.65Z" fill="#bfbf00" stroke="#bfbf00" stroke-width="0.6" stroke-linejoin="round"/>
<path d="M509.75,96.25L515.65,96.25L512.70,102.15Z" fill="#bfbf00" stroke="#bfbf00" stroke-width="0.6" stroke-linejoin="round"/>
<path d="M537.35,111.55L543.25,111.55L540.30,117.45Z" fill="#bfbf00" stroke="#bfbf00" stroke-width="0.6" stroke-linejoin="round"/>
<path d="M546.85,122.75L552.75,122.75L549.80,128.65Z" fill="#bfbf00" stroke="#bfbf00" stroke-width="0.6" stroke-linejoin="round"/>
<path d="M550.15,120.75L556.05,120.75L553.10,126.65Z" fill="#bfbf00" stroke="#bfbf00" stroke-width="0.6" stroke-linejoin="round"/>
<path d="M552.45,131.45L558.35,131.45L555.40,137.35Z" fill="#bfbf00" stroke="#bfbf00" stroke-width="0.6" stroke-linejoin="round"/>
<path d="M547.95,158.75L553.85,158.75L550.90,164.65Z" fill="#bfbf00" stroke="#bfbf00" stroke-width="0.6" stroke-linejoin="round"/>
<path d="M554.85,159.45L560.75,159.45L557.80,165.35Z" fill="#bfbf00" stroke="#bfbf00" stroke-width="0.6" stroke-linejoin="round"/>
<path d="M554.25,162.75L560.15,162.75L557.20,168.65Z" fill="#bfbf00" stroke="#bfbf00" stroke-width="0.6" stroke-linejoin="round"/>
<path d="M562.85,163.05L568.75,163.05L565.80,168.95Z" fill="#bfbf00" stroke="#bfbf00" stroke-width="0.6" stroke-linejoin="round"/>
<path d="M565.25,174.25L571.15,174.25L568.20,180.15Z" fill="#bfbf00" stroke="#bfbf00" stroke-width="0.6" stroke-linejoin="round"/>
<path d="M560.55,178.45L566.45,178.45L563.50,184.35Z" fill="#bfbf00" stroke="#bfbf00" stroke-width="0.6" stroke-linejoin="round"/>
<path d="M556.65,184.45L562.55,184.45L559.60,190.35Z" fill="#bfbf00" stroke="#bfbf00" stroke-width="0.6" stroke-linejoin="round"/>
<path d="M559.95,185.05L565.85,185.05L562.90,190.95Z" fill="#bfbf00" stroke="#bfbf00" stroke-width="0.6" stroke-linejoin="round"/>
<path d="M569.85,185.05L575.75,185.05L572.80,190.95Z" fill="#bfbf00" stroke="#bfbf00" stroke-width="0.6" stroke-linejoin="round"/>
<path d="M574.55,186.15L580.45,186.15L577.50,192.05Z" fill="#bfbf00" stroke="#bfbf00" stroke-width="0.6" stroke-linejoin="round"/>
<path d="M573.15,192.35L579.05,192.35L576.10,198.25Z" fill="#bfbf00" stroke="#bfbf00" stroke-width="0.6" stroke-linejoin="round"/>
<path d="M575.85,194.05L581.75,194.05L578.80,199.95Z" fill="#bfbf00" stroke="#bfbf00" stroke-width="0.6" stroke-linejoin="round"/>
<path d="M567.65,200.15L573.55,200.15L570.60,206.05Z" fill="#bfbf00" stroke="#bfbf00" stroke-width="0.6" stroke-linejoin="round"/>
<path d="M573.85,200.25L579.75,200.25L576.80,206.15Z" fill="#bfbf00" stroke="#bfbf00" stroke-width="0.6" stroke-linejoin="round"/>
<path d="M587.25,193.85L593.15,193.85L590.20,199.75Z" fill="#bfbf00" stroke="#bfbf00" stroke-width="0.6" stroke-linejoin="round"/>
<path d="M591.25,195.75L597.15,195.75L594.20,201.65Z" fill="#bfbf00" stroke="#bfbf00" stroke-width="0.6" stroke-linejoin="round"/>
<path d="M602.55,195.75L608.45,195.75L605.50,201.65Z" fill="#bfbf00" stroke="#bfbf00" stroke-width="0.6" stroke-linejoin="round"/>
<path d="M584.65,198.45L590.55,198.45L587.60,204.35Z" fill="#bfbf00" stroke="#bfbf00" stroke-width="0.6" stroke-linejoin="round"/>
<path d="M590.55,202.45L596.45,202.45L593.50,208.35Z" fill="#bfbf00" stroke="#bfbf00" stroke-width="0.6" stroke-linejoin="round"/>
<path d="M581.35,204.45L587.25,204.45L584.30,210.35Z" fill="#bfbf00" stroke="#bfbf00" stroke-width="0.6" stroke-linejoin="round"/>
<path d="M595.25,209.75L601.15,209.75L598.20,215.65Z" fill="#bfbf00" stroke="#bfbf00" stroke-width="0.6" stroke-linejoin="round"/>
<path d="M599.25,209.75L605.15,209.75L602.20,215.65Z" fill="#bfbf00" stroke="#bfbf00" stroke-width="0.6" stroke-linejoin="round"/>
<path d="M602.55,210.35L608.45,210.35L605.50,216.25Z" fill="#bfbf00" stroke="#bfbf00" stroke-width="0.6" stroke-linejoin="round"/>
<path d="M587.95,211.65L593.85,211.65L590.90,217.55Z" fill="#bfbf00" stroke="#bfbf00" stroke-width="0.6" stroke-linejoin="round"/>
<path d="M584.65,213.65L590.55,213.65L587.60,219.55Z" fill="#bfbf00" stroke="#bfbf00" stroke-width="0.6" stroke-linejoin="round"/>
<path d="M604.55,216.35L610.45,216.35L607.50,222.25Z" fill="#bfbf00" stroke="#bfbf00" stroke-width="0.6" stroke-linejoin="round"/>
<path d="M611.15,216.35L617.05,216.35L614.10,222.25Z" fill="#bfbf00" stroke="#bfbf00" stroke-width="0.6" stroke-linejoin="round"/>
<path d="M590.15,222.95L596.05,222.95L593.10,228.85Z" fill="#bfbf00" stroke="#bfbf00" stroke-width="0.6" stroke-linejoin="round"/>
<path d="M598.35,220.75L604.25,220.75L601.30,226.65Z" fill="#bfbf00" stroke="#bfbf00" stroke-width="0.6" stroke-linejoin="round"/>
<path d="M597.65,225.25L603.55,225.25L600.60,231.15Z" fill="#bfbf00" stroke="#bfbf00" stroke-width="0.6" stroke-linejoin="round"/>
<path d="M599.85,229.65L605.75,229.65L602.80,235.55Z" fill="#bfbf00" stroke="#bfbf00" stroke-width="0.6" stroke-linejoin="round"/>
<path d="M599.05,240.85L604.95,240.85L602.00,246.75Z" fill="#bfbf00" stroke="#bfbf00" stroke-width="0.6" stroke-linejoin="round"/>
<path d="M600.55,242.35L606.45,242.35L603.50,248.25Z" fill="#bfbf00" stroke="#bfbf00" stroke-width="0.6" stroke-linejoin="round"/>
<path d="M599.85,249.05L605.75,249.05L602.80,254.95Z" fill="#bfbf00" stroke="#bfbf00" stroke-width="0.6" stroke-linejoin="round"/></g>
<path d="M62.60,273.5v-3.6M62.60,0.5v3.6M102.09,273.5v-3.6M102.09,0.5v3.6M141.57,273.5v-3.6M141.57,0.5v3.6M181.06,273.5v-3.6M181.06,0.5v3.6M220.54,273.5v-3.6M220.54,0.5v3.6M260.03,273.5v-3.6M260.03,0.5v3.6M299.51,273.5v-3.6M299.51,0.5v3.6M48.5,24.60h3.6M308.5,24.60h-3.6M48.5,57.26h3.6M308.5,57.26h-3.6M48.5,89.92h3.6M308.5,89.92h-3.6M48.5,122.58h3.6M308.5,122.58h-3.6M48.5,155.24h3.6M308.5,155.24h-3.6M48.5,187.90h3.6M308.5,187.90h-3.6M48.5,220.56h3.6M308.5,220.56h-3.6M48.5,253.22h3.6M308.5,253.22h-3.6" stroke="#000" stroke-width="1" fill="none"/>
<rect x="48.5" y="0.5" width="260.0" height="273.0" fill="none" stroke="#000" stroke-width="1.0"/>
<text x="62.60" y="287.00" text-anchor="middle" font-family="&quot;Liberation Sans&quot;, sans-serif" font-size="12.3" textLength="28.17" lengthAdjust="spacingAndGlyphs" >−2.5</text>
<text x="102.09" y="287.00" text-anchor="middle" font-family="&quot;Liberation Sans&quot;, sans-serif" font-size="12.3" textLength="28.17" lengthAdjust="spacingAndGlyphs" >−2.0</text>
<text x="141.57" y="287.00" text-anchor="middle" font-family="&quot;Liberation Sans&quot;, sans-serif" font-size="12.3" textLength="28.17" lengthAdjust="spacingAndGlyphs" >−1.5</text>
<text x="181.06" y="287.00" text-anchor="middle" font-family="&quot;Liberation Sans&quot;, sans-serif" font-size="12.3" textLength="28.17" lengthAdjust="spacingAndGlyphs" >−1.0</text>
<text x="220.54" y="287.00" text-anchor="middle" font-family="&quot;Liberation Sans&quot;, sans-serif" font-size="12.3" textLength="28.17" lengthAdjust="spacingAndGlyphs" >−0.5</text>
<text x="260.03" y="287.00" text-anchor="middle" font-family="&quot;Liberation Sans&quot;, sans-serif" font-size="12.3" textLength="18.45" lengthAdjust="spacingAndGlyphs" >0.0</text>
<text x="299.51" y="287.00" text-anchor="middle" font-family="&quot;Liberation Sans&quot;, sans-serif" font-size="12.3" textLength="18.45" lengthAdjust="spacingAndGlyphs" >0.5</text>
<text x="44.40" y="28.00" text-anchor="end" font-family="&quot;Liberation Sans&quot;, sans-serif" font-size="12.3" textLength="18.45" lengthAdjust="spacingAndGlyphs" >0.5</text>
<text x="44.40" y="60.66" text-anchor="end" font-family="&quot;Liberation Sans&quot;, sans-serif" font-size="12.3" textLength="18.45" lengthAdjust="spacingAndGlyphs" >0.4</text>
<text x="44.40" y="93.32" text-anchor="end" font-family="&quot;Liberation Sans&quot;, sans-serif" font-size="12.3" textLength="18.45" lengthAdjust="spacingAndGlyphs" >0.3</text>
<text x="44.40" y="125.98" text-anchor="end" font-family="&quot;Liberation Sans&quot;, sans-serif" font-size="12.3" textLength="18.45" lengthAdjust="spacingAndGlyphs" >0.2</text>
<text x="44.40" y="158.64" text-anchor="end" font-family="&quot;Liberation Sans&quot;, sans-serif" font-size="12.3" textLength="18.45" lengthAdjust="spacingAndGlyphs" >0.1</text>
<text x="44.40" y="191.30" text-anchor="end" font-family="&quot;Liberation Sans&quot;, sans-serif" font-size="12.3" textLength="18.45" lengthAdjust="spacingAndGlyphs" >0.0</text>
<text x="44.40" y="223.96" text-anchor="end" font-family="&quot;Liberation Sans&quot;, sans-serif" font-size="12.3" textLength="28.17" lengthAdjust="spacingAndGlyphs" >−0.1</text>
<text x="44.40" y="256.62" text-anchor="end" font-family="&quot;Liberation Sans&quot;, sans-serif" font-size="12.3" textLength="28.17" lengthAdjust="spacingAndGlyphs" >−0.2</text>
<text x="178.50" y="301.30" text-anchor="middle" font-family="&quot;Liberation Sans&quot;, sans-serif" font-size="12.3" textLength="34.86" lengthAdjust="spacingAndGlyphs" >[Fe/H]</text>
<text transform="translate(8.60,137.30) rotate(-90)" x="0" y="0" text-anchor="middle" font-family="&quot;Liberation Sans&quot;, sans-serif" font-size="12.3" textLength="34.23" lengthAdjust="spacingAndGlyphs">[C/Fe]</text>
<text x="297.90" y="24.80" text-anchor="end" font-family="&quot;Liberation Sans&quot;, sans-serif" font-size="16" textLength="22.57" lengthAdjust="spacingAndGlyphs" >(a)</text>
<path d="M383.50,273.5v-3.6M383.50,0.5v3.6M422.99,273.5v-3.6M422.99,0.5v3.6M462.47,273.5v-3.6M462.47,0.5v3.6M501.95,273.5v-3.6M501.95,0.5v3.6M541.44,273.5v-3.6M541.44,0.5v3.6M580.92,273.5v-3.6M580.92,0.5v3.6M620.41,273.5v-3.6M620.41,0.5v3.6M369.5,19.88h3.6M629.5,19.88h-3.6M369.5,64.16h3.6M629.5,64.16h-3.6M369.5,108.44h3.6M629.5,108.44h-3.6M369.5,152.72h3.6M629.5,152.72h-3.6M369.5,197.00h3.6M629.5,197.00h-3.6M369.5,241.28h3.6M629.5,241.28h-3.6" stroke="#000" stroke-width="1" fill="none"/>
<rect x="369.5" y="0.5" width="260.0" height="273.0" fill="none" stroke="#000" stroke-width="1.0"/>
<text x="383.50" y="287.00" text-anchor="middle" font-family="&quot;Liberation Sans&quot;, sans-serif" font-size="12.3" textLength="28.17" lengthAdjust="spacingAndGlyphs" >−2.5</text>
<text x="422.99" y="287.00" text-anchor="middle" font-family="&quot;Liberation Sans&quot;, sans-serif" font-size="12.3" textLength="28.17" lengthAdjust="spacingAndGlyphs" >−2.0</text>
<text x="462.47" y="287.00" text-anchor="middle" font-family="&quot;Liberation Sans&quot;, sans-serif" font-size="12.3" textLength="28.17" lengthAdjust="spacingAndGlyphs" >−1.5</text>
<text x="501.95" y="287.00" text-anchor="middle" font-family="&quot;Liberation Sans&quot;, sans-serif" font-size="12.3" textLength="28.17" lengthAdjust="spacingAndGlyphs" >−1.0</text>
<text x="541.44" y="287.00" text-anchor="middle" font-family="&quot;Liberation Sans&quot;, sans-serif" font-size="12.3" textLength="28.17" lengthAdjust="spacingAndGlyphs" >−0.5</text>
<text x="580.92" y="287.00" text-anchor="middle" font-family="&quot;Liberation Sans&quot;, sans-serif" font-size="12.3" textLength="18.45" lengthAdjust="spacingAndGlyphs" >0.0</text>
<text x="620.41" y="287.00" text-anchor="middle" font-family="&quot;Liberation Sans&quot;, sans-serif" font-size="12.3" textLength="18.45" lengthAdjust="spacingAndGlyphs" >0.5</text>
<text x="365.40" y="23.28" text-anchor="end" font-family="&quot;Liberation Sans&quot;, sans-serif" font-size="12.3" textLength="18.45" lengthAdjust="spacingAndGlyphs" >0.8</text>
<text x="365.40" y="67.56" text-anchor="end" font-family="&quot;Liberation Sans&quot;, sans-serif" font-size="12.3" textLength="18.45" lengthAdjust="spacingAndGlyphs" >0.6</text>
<text x="365.40" y="111.84" text-anchor="end" font-family="&quot;Liberation Sans&quot;, sans-serif" font-size="12.3" textLength="18.45" lengthAdjust="spacingAndGlyphs" >0.4</text>
<text x="365.40" y="156.12" text-anchor="end" font-family="&quot;Liberation Sans&quot;, sans-serif" font-size="12.3" textLength="18.45" lengthAdjust="spacingAndGlyphs" >0.2</text>
<text x="365.40" y="200.40" text-anchor="end" font-family="&quot;Liberation Sans&quot;, sans-serif" font-size="12.3" textLength="18.45" lengthAdjust="spacingAndGlyphs" >0.0</text>
<text x="365.40" y="244.68" text-anchor="end" font-family="&quot;Liberation Sans&quot;, sans-serif" font-size="12.3" textLength="28.17" lengthAdjust="spacingAndGlyphs" >−0.2</text>
<text x="499.50" y="301.30" text-anchor="middle" font-family="&quot;Liberation Sans&quot;, sans-serif" font-size="12.3" textLength="34.86" lengthAdjust="spacingAndGlyphs" >[Fe/H]</text>
<text transform="translate(329.60,137.30) rotate(-90)" x="0" y="0" text-anchor="middle" font-family="&quot;Liberation Sans&quot;, sans-serif" font-size="12.3" textLength="35.26" lengthAdjust="spacingAndGlyphs">[O/Fe]</text>
<text x="618.90" y="24.80" text-anchor="end" font-family="&quot;Liberation Sans&quot;, sans-serif" font-size="16" textLength="22.92" lengthAdjust="spacingAndGlyphs" >(b)</text>
<rect x="52.60" y="212.6" width="111.1" height="56.3" rx="3" fill="#fff" fill-opacity="0.8" stroke="#d0d0d0" stroke-width="1.2"/>
<circle cx="65.7" cy="221.4" r="3.3" fill="#0000ff"/>
<text x="81.90" y="223.85" text-anchor="start" font-family="&quot;Liberation Sans&quot;, sans-serif" font-size="9.6" textLength="53.87" lengthAdjust="spacingAndGlyphs" >Zhao(2016)</text>
<path d="M63.40,232.40L68.00,237.00M63.40,237.00L68.00,232.40" stroke="#008000" stroke-width="1.8" stroke-linecap="round" fill="none"/>
<text x="81.90" y="237.10" text-anchor="start" font-family="&quot;Liberation Sans&quot;, sans-serif" font-size="9.6" textLength="62.97" lengthAdjust="spacingAndGlyphs" >Brewer(2016)</text>
<rect x="62.65" y="244.90" width="6.10" height="6.10" fill="#ff0000"/>
<text x="81.90" y="250.35" text-anchor="start" font-family="&quot;Liberation Sans&quot;, sans-serif" font-size="9.6" textLength="78.36" lengthAdjust="spacingAndGlyphs" >Adibekyan(2012)</text>
<path d="M62.75,258.75L68.65,258.75L65.70,264.65Z" fill="#bfbf00" stroke="#bfbf00" stroke-width="0.6" stroke-linejoin="round"/>
<text x="81.90" y="263.60" text-anchor="start" font-family="&quot;Liberation Sans&quot;, sans-serif" font-size="9.6" textLength="60.97" lengthAdjust="spacingAndGlyphs" >Nissen(2014)</text>
<rect x="373.70" y="212.6" width="111.1" height="56.3" rx="3" fill="#fff" fill-opacity="0.8" stroke="#d0d0d0" stroke-width="1.2"/>
<circle cx="386.8" cy="221.4" r="3.3" fill="#0000ff"/>
<text x="403.00" y="223.85" text-anchor="start" font-family="&quot;Liberation Sans&quot;, sans-serif" font-size="9.6" textLength="53.87" lengthAdjust="spacingAndGlyphs" >Zhao(2016)</text>
<path d="M384.50,232.40L389.10,237.00M384.50,237.00L389.10,232.40" stroke="#008000" stroke-width="1.8" stroke-linecap="round" fill="none"/>
<text x="403.00" y="237.10" text-anchor="start" font-family="&quot;Liberation Sans&quot;, sans-serif" font-size="9.6" textLength="62.97" lengthAdjust="spacingAndGlyphs" >Brewer(2016)</text>
<rect x="383.75" y="244.90" width="6.10" height="6.10" fill="#ff0000"/>
<text x="403.00" y="250.35" text-anchor="start" font-family="&quot;Liberation Sans&quot;, sans-serif" font-size="9.6" textLength="78.36" lengthAdjust="spacingAndGlyphs" >Adibekyan(2012)</text>
<path d="M383.85,258.75L389.75,258.75L386.80,264.65Z" fill="#bfbf00" stroke="#bfbf00" stroke-width="0.6" stroke-linejoin="round"/>
<text x="403.00" y="263.60" text-anchor="start" font-family="&quot;Liberation Sans&quot;, sans-serif" font-size="9.6" textLength="60.97" lengthAdjust="spacingAndGlyphs" >Nissen(2014)</text>
</svg>
</body></html>
